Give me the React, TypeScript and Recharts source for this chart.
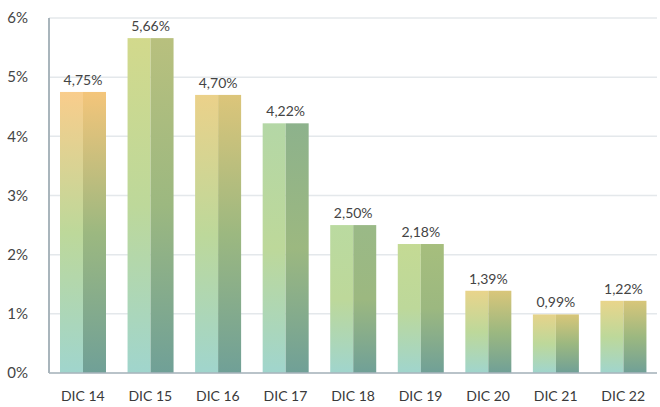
import React from 'react';
import { BarChart, Bar, XAxis, YAxis, CartesianGrid, LabelList } from 'recharts';

// Monthly rate per December (percent)
const periods = ['DIC 14', 'DIC 15', 'DIC 16', 'DIC 17', 'DIC 18', 'DIC 19', 'DIC 20', 'DIC 21', 'DIC 22'];
const rates = [4.75, 5.66, 4.7, 4.22, 2.5, 2.18, 1.39, 0.99, 1.22];
const yTicks = [0, 1, 2, 3, 4, 5, 6];

// top colour of each bar, light half and shaded half
const topLight = ['#f9cd8c', '#d2d98c', '#ebd18a', '#b4d7a6', '#badaa0', '#c4da94', '#e9d48b', '#e6d38a', '#e9d58b'];
const topDark = ['#f4c57a', '#b8c07e', '#dcc57a', '#8db28c', '#9ab987', '#a6be7d', '#d9c67a', '#d8c679', '#d8c67a'];

const data = periods.map((name, i) => ({ name, value: rates[i] }));

const fmt = (v: number) => v.toFixed(2).replace('.', ',') + '%';

const SplitBar = (props: any) => {
  const { x, y, width, height, index } = props;
  if (!height || height <= 0) return null;
  const half = width / 2;
  return (
    <g>
      <rect x={x} y={y} width={half} height={height} fill={`url(#barL${index})`} />
      <rect x={x + half} y={y} width={width - half} height={height} fill={`url(#barR${index})`} />
    </g>
  );
};

export default function App() {
  return (
    <div style={{ position: 'absolute', left: 0, top: 0, fontFamily: 'Lato, sans-serif' }}>
      <BarChart width={660} height={407} data={data} margin={{ top: 18, right: 3, left: 0, bottom: 0 }} barSize={46}>
        <defs>
          {periods.map((_, i) => (
            <linearGradient key={`l${i}`} id={`barL${i}`} x1="0" y1="0" x2="0" y2="1">
              <stop offset="0%" stopColor={topLight[i]} />
              <stop offset="50%" stopColor="#bdd89a" />
              <stop offset="100%" stopColor="#a0d5cd" />
            </linearGradient>
          ))}
          {periods.map((_, i) => (
            <linearGradient key={`r${i}`} id={`barR${i}`} x1="0" y1="0" x2="0" y2="1">
              <stop offset="0%" stopColor={topDark[i]} />
              <stop offset="50%" stopColor="#9cb880" />
              <stop offset="100%" stopColor="#70a097" />
            </linearGradient>
          ))}
        </defs>
        <CartesianGrid vertical={false} stroke="#e4e8eb" strokeWidth={1.5} />
        <XAxis
          dataKey="name"
          height={34}
          tickLine={false}
          tickSize={0}
          tickMargin={18}
          axisLine={{ stroke: '#a9b5bc', strokeWidth: 1.5 }}
          tick={{ fill: '#3a3a3a', fontSize: 14 }}
          interval={0}
        />
        <YAxis
          width={49}
          domain={[0, 6]}
          ticks={yTicks}
          tickFormatter={(v) => `${v}%`}
          tickLine={false}
          tickSize={0}
          tickMargin={21}
          axisLine={{ stroke: '#a9b5bc', strokeWidth: 2 }}
          tick={{ fill: '#444', fontSize: 15 }}
        />
        <Bar dataKey="value" shape={<SplitBar />} isAnimationActive={false}>
          <LabelList dataKey="value" position="top" offset={7} formatter={(v: any) => fmt(Number(v))} fill="#444" fontSize={14} />
        </Bar>
      </BarChart>
    </div>
  );
}
